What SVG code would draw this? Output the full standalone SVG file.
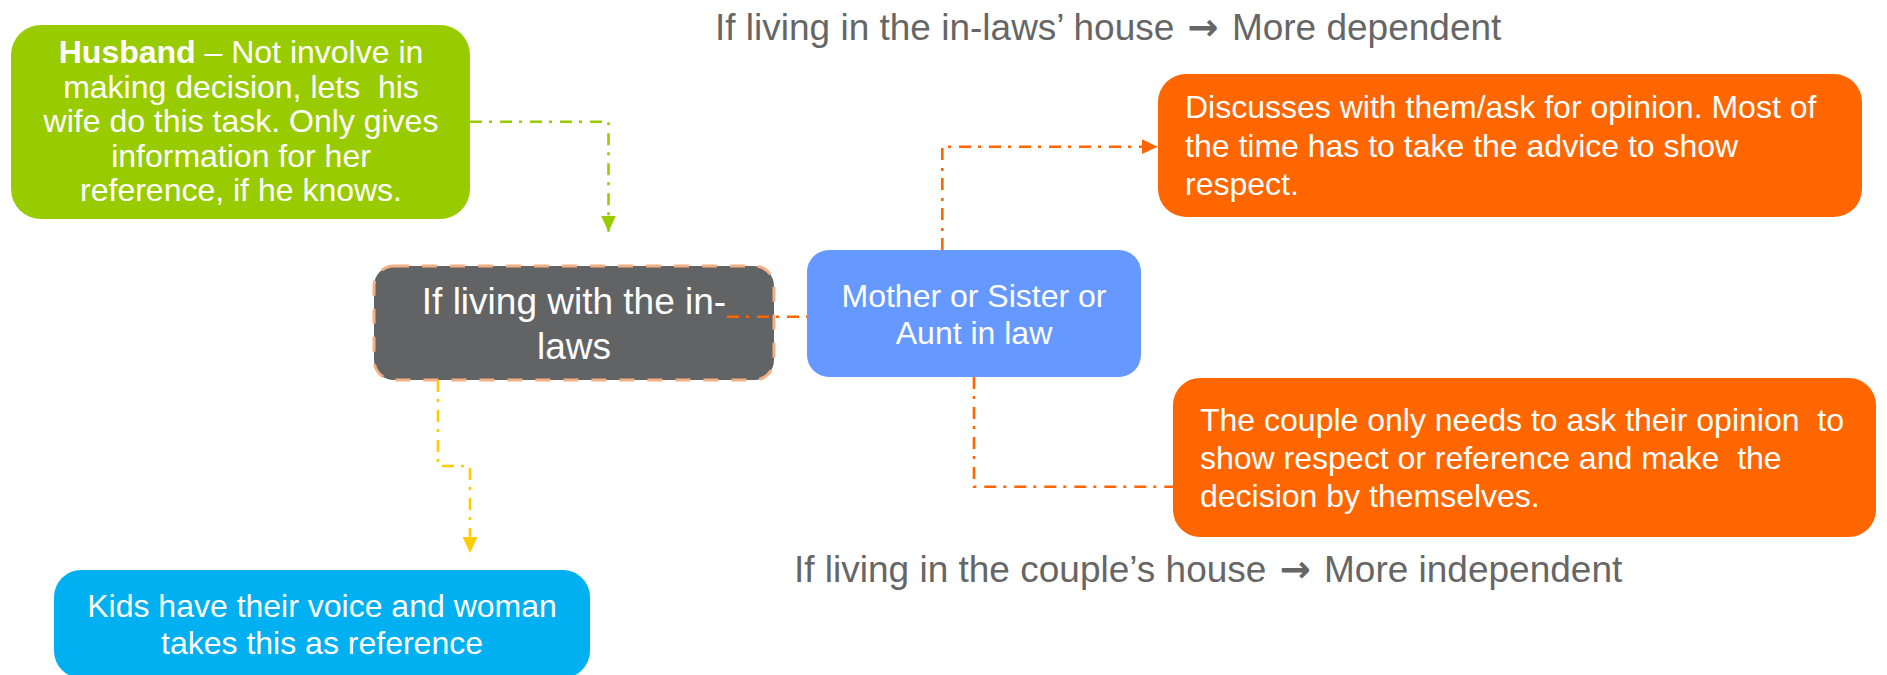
<svg xmlns="http://www.w3.org/2000/svg" width="1887" height="675" viewBox="0 0 1887 675">
  <style>
    text { font-family: "Liberation Sans", Arial, sans-serif; }
    .w { fill: #ffffff; font-size: 32px; }
    .big { font-size: 37px; }
    .mid { text-anchor: middle; }
    .cap { fill: #666666; font-size: 37px; }
    .arw { font-family: "DejaVu Sans", sans-serif; font-weight: bold; }
    .link { fill: none; stroke-width: 2.6; stroke-dasharray: 12 7 3 8; }
  </style>
  <defs>
    <marker id="arrow-green" markerUnits="userSpaceOnUse" markerWidth="17" markerHeight="15" refX="16" refY="7.5" orient="auto">
      <path d="M0,0 L16,7.5 L0,15 z" fill="#99CC00"/>
    </marker>
    <marker id="arrow-orange" markerUnits="userSpaceOnUse" markerWidth="17" markerHeight="15" refX="16" refY="7.5" orient="auto">
      <path d="M0,0 L16,7.5 L0,15 z" fill="#FF6600"/>
    </marker>
    <marker id="arrow-yellow" markerUnits="userSpaceOnUse" markerWidth="17" markerHeight="15" refX="16" refY="7.5" orient="auto">
      <path d="M0,0 L16,7.5 L0,15 z" fill="#FFCC00"/>
    </marker>
  </defs>

  <!-- headline captions -->
  <g id="caption-top">
    <text class="cap" x="715" y="40">If living in the in-laws’ house <tspan class="arw" dx="3">→</tspan> <tspan dx="3">More dependent</tspan></text>
  </g>
  <g id="caption-bottom">
    <text class="cap" x="794" y="582">If living in the couple’s house <tspan class="arw" dx="3">→</tspan> <tspan dx="3">More independent</tspan></text>
  </g>

  <!-- husband -->
  <g id="husband">
    <rect x="11" y="25" width="459" height="194" rx="30" fill="#99CC00"/>
    <text class="w mid" x="241" y="63.3" xml:space="preserve"><tspan font-weight="bold">Husband</tspan> – Not involve in</text>
    <text class="w mid" x="241" y="97.7" xml:space="preserve">making decision, lets  his</text>
    <text class="w mid" x="241" y="132.1">wife do this task. Only gives</text>
    <text class="w mid" x="241" y="166.5">information for her</text>
    <text class="w mid" x="241" y="200.9">reference, if he knows.</text>
  </g>

  <!-- central situation -->
  <g id="inlaws">
    <rect x="374" y="266" width="400" height="114" rx="20" fill="#626365" stroke="#F4B084" stroke-width="3" stroke-dasharray="15 13"/>
    <text class="w big mid" x="574" y="314">If living with the in-</text>
    <text class="w big mid" x="574" y="359">laws</text>
  </g>

  <!-- relatives -->
  <g id="relatives">
    <rect x="807" y="250" width="334" height="127" rx="22" fill="#6699FF"/>
    <text class="w mid" x="974" y="306.7">Mother or Sister or</text>
    <text class="w mid" x="974" y="344.3">Aunt in law</text>
  </g>

  <!-- dependent outcome -->
  <g id="dependent">
    <rect x="1158" y="74" width="704" height="143" rx="28" fill="#FF6600"/>
    <text class="w" x="1185" y="118.3">Discusses with them/ask for opinion. Most of</text>
    <text class="w" x="1185" y="156.6">the time has to take the advice to show</text>
    <text class="w" x="1185" y="194.9">respect.</text>
  </g>

  <!-- independent outcome -->
  <g id="independent">
    <rect x="1173" y="378" width="703" height="159" rx="27" fill="#FF6600"/>
    <text class="w" x="1200" y="430.7" xml:space="preserve">The couple only needs to ask their opinion  to</text>
    <text class="w" x="1200" y="469" xml:space="preserve">show respect or reference and make  the</text>
    <text class="w" x="1200" y="507.3">decision by themselves.</text>
  </g>

  <!-- kids -->
  <g id="kids">
    <rect x="54" y="570" width="536" height="108" rx="27" fill="#00B0F0"/>
    <text class="w mid" x="322" y="616.7">Kids have their voice and woman</text>
    <text class="w mid" x="322" y="654.3">takes this as reference</text>
  </g>

  <!-- connectors -->
  <g id="connectors">
    <path class="link" stroke="#99CC00" d="M470,121.7 H608.5 V231.7" marker-end="url(#arrow-green)"/>
    <path class="link" stroke="#FFCC00" d="M438,380 V466 H470 V553" marker-end="url(#arrow-yellow)"/>
    <path class="link" stroke="#FF6600" d="M727,316.7 H807"/>
    <path class="link" stroke="#FF6600" d="M942.3,250 V146.7 H1157.7" marker-end="url(#arrow-orange)"/>
    <path class="link" stroke="#FF6600" d="M974,377 V486.7 H1173"/>
  </g>
</svg>
